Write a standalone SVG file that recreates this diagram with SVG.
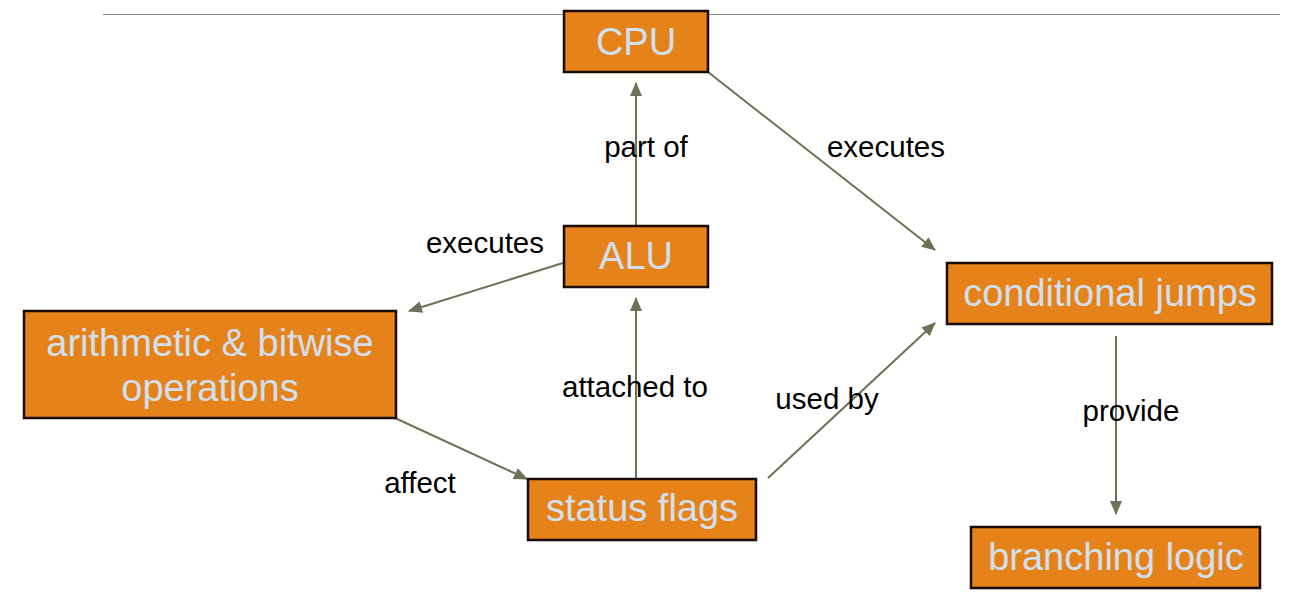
<svg xmlns="http://www.w3.org/2000/svg" width="1298" height="613" viewBox="0 0 1298 613">
<style>
.node rect{fill:#e6821a;stroke:#1a0a00;stroke-width:2.5}
.node text{font-family:"Liberation Sans",Arial,sans-serif;font-size:38px;fill:#d0e0ee;text-anchor:middle}
.lbl{font-family:"Liberation Sans",Arial,sans-serif;font-size:29.5px;fill:#000;text-anchor:middle}
.edge{stroke:#6b7258;stroke-width:2;fill:none;marker-end:url(#ah)}
</style>
<defs>
<marker id="ah" markerWidth="14" markerHeight="12" refX="13" refY="6" orient="auto" markerUnits="userSpaceOnUse">
<path d="M0,0 L14,6 L0,12 Z" fill="#6b7258"/>
</marker>
</defs>
<rect width="1298" height="613" fill="#fff"/>
<line x1="103" y1="14.5" x2="1280" y2="14.5" stroke="#8a8a8a" stroke-width="1"/>
<g id="connectors">
<line class="edge" x1="636" y1="226" x2="636" y2="83"/>
<line class="edge" x1="708" y1="72" x2="935" y2="250"/>
<line class="edge" x1="563" y1="263" x2="409" y2="311"/>
<line class="edge" x1="395" y1="418" x2="527" y2="479"/>
<line class="edge" x1="636" y1="479" x2="636" y2="298"/>
<line class="edge" x1="768" y1="478" x2="935" y2="323"/>
<line class="edge" x1="1116" y1="336" x2="1116" y2="514"/>
<text class="lbl" x="646" y="157">part of</text>
<text class="lbl" x="886" y="157">executes</text>
<text class="lbl" x="485" y="253">executes</text>
<text class="lbl" x="635" y="397">attached to</text>
<text class="lbl" x="827" y="409">used by</text>
<text class="lbl" x="420" y="493">affect</text>
<text class="lbl" x="1131" y="421">provide</text>
</g>
<g id="cpu" class="node"><rect x="564" y="11" width="144" height="61"/><text x="636" y="55">CPU</text></g>
<g id="alu" class="node"><rect x="564" y="226" width="144" height="61"/><text x="636" y="269">ALU</text></g>
<g id="arith" class="node"><rect x="24" y="311" width="372" height="107"/><text x="210" y="356">arithmetic &amp; bitwise</text><text x="210" y="401">operations</text></g>
<g id="flags" class="node"><rect x="528" y="479" width="228" height="61"/><text x="642" y="521">status flags</text></g>
<g id="jumps" class="node"><rect x="947" y="263" width="325" height="61"/><text x="1110" y="306">conditional jumps</text></g>
<g id="branch" class="node"><rect x="971" y="527" width="289" height="61"/><text x="1116" y="570">branching logic</text></g>
</svg>
